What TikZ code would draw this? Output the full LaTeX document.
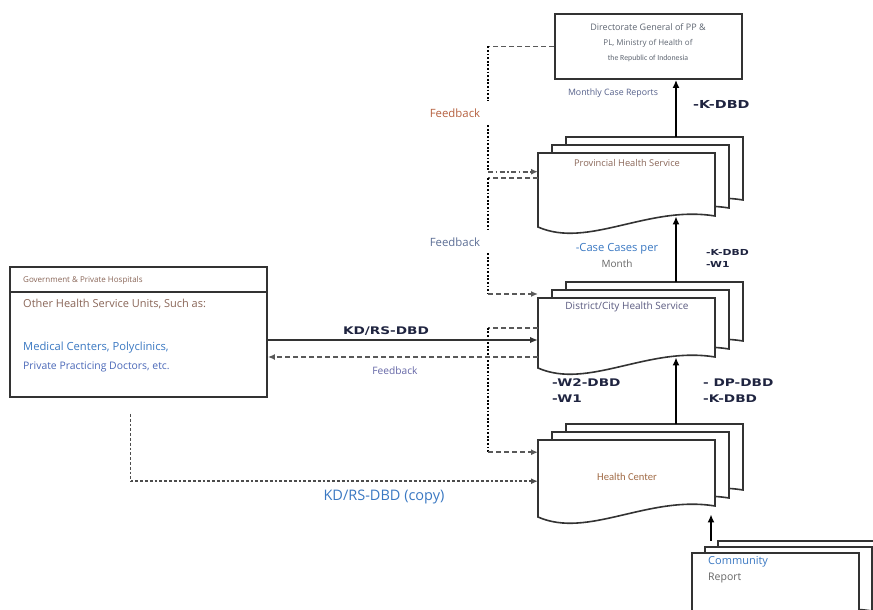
\documentclass[tikz,border=0pt]{standalone}
\usepackage{color}
\usepackage{tikz}
\usepackage{fontspec}
\usetikzlibrary{arrows.meta}
\setmainfont{Open Sans}
\newfontfamily\labfont{DejaVu Sans Bold}[FakeStretch=1.3]
\newfontfamily\narrowfont{Carlito}

\definecolor{boxgray}{HTML}{333333}
\definecolor{fbbrown}{HTML}{B5603F}
\definecolor{fbslate}{HTML}{5B6D94}
\definecolor{fbviolet}{HTML}{6466A6}
\definecolor{txtgray}{HTML}{5F6672}
\definecolor{txtslate}{HTML}{55608A}
\definecolor{txtbrown}{HTML}{8A6658}
\definecolor{txtplum}{HTML}{5A5A80}
\definecolor{txtblue}{HTML}{3A78C2}
\definecolor{txtblue2}{HTML}{4A68B8}
\definecolor{labnavy}{HTML}{1F2440}

\tikzset{
	box/.style={draw=boxgray, line width=1.8pt, fill=white, inner sep=0},
	page/.style={draw=boxgray, line width=1.6pt, fill=white},
	flow/.style={line width=2.6pt, -{Latex[length=8pt,width=7pt]}},
	sendline/.style={draw=boxgray, line width=1.8pt, -{Latex[length=8pt,width=6.5pt]}},
	fbdash/.style={draw=black!65, line width=1.7pt, dash pattern=on 5pt off 3pt},
	fbdashdot/.style={draw=black!65, line width=1.7pt, dash pattern=on 5pt off 2.5pt on 1.5pt off 2.5pt},
	fbdot/.style={line width=2.2pt, dash pattern=on 1.8pt off 1.8pt},
	copyline/.style={draw=black!70, line width=1.7pt, dash pattern=on 2.8pt off 2pt},
	tip/.style={-{Latex[length=7pt,width=6pt]}},
	lab/.style={font=\labfont\fontsize{10.5}{12}\selectfont, text=labnavy, inner sep=0, anchor=west},
	txt/.style={inner sep=0}
}

\newcommand{\docpage}[5]{%
	\filldraw[page] (#2,#3) -- (#2,#3+#5) .. controls +(50,22) and +(-67,-11) .. (#2+#4,#3+#5-11) -- (#2+#4,#3) -- cycle;
	\node[inner sep=0, minimum width=#4pt, minimum height=#5pt-11pt, anchor=north west] (#1) at (#2,#3) {};
}
\newcommand{\docstack}[7]{%
	\docpage{#13}{#2+2*#6}{#3-2*#7}{#4}{#5}
	\docpage{#12}{#2+#6}{#3-#7}{#4}{#5}
	\docpage{#1}{#2}{#3}{#4}{#5}
}

\begin{document}
\begin{tikzpicture}[x=1pt,y=-1pt]
	\useasboundingbox (0,0) rectangle (873,610);
	\clip (0,0) rectangle (873,610);
	\node[box, minimum width=187pt, minimum height=65pt] (dg) at (648.5,46.5) {};
	\node[txt, font=\fontsize{9}{10}\selectfont, text=txtgray] (dgname) at (648,27) {Directorate General of PP \&};
	\node[txt, font=\fontsize{8}{9}\selectfont, text=txtgray] (dgmin) at (648,43) {PL, Ministry of Health of};
	\node[txt, font=\narrowfont\fontsize{7.8}{9}\selectfont, text=txtgray] (dgrep) at (648,58) {the Republic of Indonesia};

	\docstack{prov}{538}{153}{177}{74}{14}{8}
	\docstack{dist}{538}{298}{177}{70}{14}{8}
	\docstack{hc}{538}{440}{177}{77}{14}{8}
	\docstack{comm}{692}{553}{167}{75}{13}{6}
	\node[txt, font=\fontsize{9.3}{11}\selectfont, text=txtbrown] (provname) at (627,163) {Provincial Health Service};
	\node[txt, font=\fontsize{10}{12}\selectfont, text=txtplum] (distname) at (627,307) {District/City Health Service};
	\node[txt, font=\narrowfont\fontsize{10.6}{12}\selectfont, text=txtbrown!80!orange] (hcname) at (627,477) {Health Center};
	\node[txt, anchor=west, font=\fontsize{11}{13}\selectfont, text=txtblue] (commname) at (708,562) {Community};
	\node[txt, anchor=west, font=\fontsize{10.5}{12}\selectfont, text=black!60] (commrep) at (708,578) {Report};

	\node[box, minimum width=257pt, minimum height=130pt] (hosp) at (138.5,332) {};
	\draw[draw=boxgray, line width=1.6pt] ([yshift=-26pt]hosp.north west) -- ([yshift=-26pt]hosp.north east);
	\node[txt, anchor=west, font=\fontsize{8}{9}\selectfont, text=txtbrown] (hosphead) at (23,280) {Government \& Private Hospitals};
	\node[txt, anchor=west, font=\fontsize{11}{13}\selectfont, text=txtbrown] (hospunits) at (23,304) {Other Health Service Units, Such as:};
	\node[txt, anchor=west, font=\fontsize{11.2}{13}\selectfont, text=txtblue] (hospmed) at (23,348) {Medical Centers, Polyclinics,};
	\node[txt, anchor=west, font=\fontsize{10.4}{12}\selectfont, text=txtblue2] (hospdoc) at (23,367) {Private Practicing Doctors, etc.};

	\coordinate (spine) at (676,0);
	\coordinate (fbx) at (488,0);
	\coordinate (cup) at (711,0);
	\draw[flow] (spine |- prov3.north) -- (spine |- dg.south);
	\draw[flow] (spine |- dist3.north) -- (spine |- prov.south);
	\draw[flow] (spine |- hc3.north) -- (spine |- dist.south);
	\draw[flow, shorten >=8pt] (cup |- comm3.north) -- (cup |- hc.south);

	\node[txt, font=\fontsize{8.8}{10}\selectfont, text=txtslate] (monthly) at (613,93) {Monthly Case Reports};
	\node[lab, font=\labfont\fontsize{11}{12}\selectfont] (kdbdtop) at (693,104) {-K-DBD};
	\node[txt, font=\fontsize{11.2}{13}\selectfont, text=txtblue] (casemonth) at (617,249) {-Case Cases per};
	\node[txt, font=\fontsize{10}{12}\selectfont, text=black!60] (casemonth2) at (617,264) {Month};
	\node[lab, font=\labfont\fontsize{8.3}{10}\selectfont] (kdbdmid) at (706,252) {-K-DBD};
	\node[lab, font=\labfont\fontsize{8.3}{10}\selectfont] (wmid) at (706,264) {-W1};
	\node[lab] (wtwo) at (552,383) {-W2-DBD};
	\node[lab] (wone) at (552,399) {-W1};
	\node[lab] (dpdbd) at (703,383) {- DP-DBD};
	\node[lab] (kdbdlow) at (703,399) {-K-DBD};

	\node[txt, font=\fontsize{11.4}{13}\selectfont, text=fbbrown, minimum height=24pt] (fbtop) at (455,113) {Feedback};
	\node[txt, font=\fontsize{11.4}{13}\selectfont, text=fbslate, minimum height=22pt] (fbmid) at (455,242) {Feedback};
	\coordinate (provin) at ([yshift=13pt]prov.west);
	\coordinate (provout) at ([yshift=6.5pt]prov.west);
	\coordinate (distin) at ([yshift=4pt]dist.north west);
	\coordinate (hcin) at ([yshift=21pt]hc.west);
	\draw[fbdash] (dg.west) -- (fbx |- dg.west);
	\draw[fbdot] (fbx |- dg.west) -- (fbx |- fbtop.north);
	\draw[fbdot] (fbx |- fbtop.south) -- (fbx |- provin);
	\draw[fbdashdot, tip] (fbx |- provin) -- (provin);
	\draw[fbdash] (provout) -- (fbx |- provout);
	\draw[fbdot] (fbx |- provout) -- (fbx |- fbmid.north);
	\draw[fbdot] (fbx |- fbmid.south) -- (fbx |- distin);
	\draw[fbdash, tip] (fbx |- distin) -- (distin);
	\draw[fbdash] (dist.west) -- (fbx |- dist.west);
	\draw[fbdot] (fbx |- dist.west) -- (fbx |- hcin);
	\draw[fbdash, tip] (fbx |- hcin) -- (hcin);

	\coordinate (kdout) at ([yshift=-8pt]hosp.east);
	\coordinate (fbback) at ([yshift=-25pt]hosp.east);
	\draw[sendline] (kdout) -- (kdout -| dist.west);
	\draw[fbdash, tip] (fbback -| dist.west) -- (fbback);
	\node[lab, anchor=center] (kdrs) at (386,331) {KD/RS-DBD};
	\node[txt, font=\fontsize{10.2}{12}\selectfont, text=fbviolet] (fblow) at (395,371) {Feedback};

	\coordinate (cpstart) at ([xshift=-8pt,yshift=-16pt]hosp.south);
	\coordinate (cpin) at ([yshift=-8pt]hc.west);
	\draw[copyline] (cpstart) -- (cpstart |- cpin);
	\draw[copyline, tip] (cpstart |- cpin) -- (cpin);
	\node[txt, font=\fontsize{14.5}{16}\selectfont, text=txtblue] (kdcopy) at (384,497) {KD/RS-DBD (copy)};
\end{tikzpicture}
\end{document}
